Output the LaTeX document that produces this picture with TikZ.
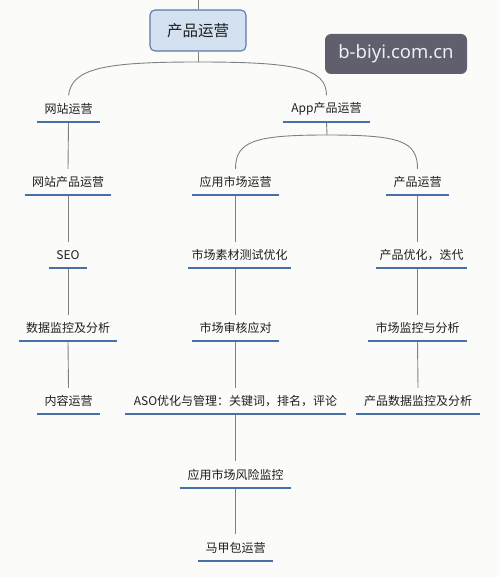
\documentclass[tikz,border=0pt]{standalone}
\usepackage{fontspec}
\setmainfont{Noto Sans CJK SC}
\newfontfamily\badgefont{Noto Sans}
\definecolor{bgc}{RGB}{251,252,249}
\definecolor{linec}{RGB}{128,128,128}
\definecolor{ulc}{RGB}{72,112,168}
\definecolor{rootfill}{RGB}{212,225,241}
\definecolor{rootdraw}{RGB}{88,122,168}
\definecolor{badgec}{RGB}{95,95,110}
\definecolor{txt}{RGB}{30,30,30}
\begin{document}
\begin{tikzpicture}[x=1pt,y=-1pt,
  conn/.style={draw=linec,line width=0.9pt},
  uline/.style={draw=ulc,line width=2.2pt},
  leaf/.style={minimum height=26pt,inner sep=0pt,text=txt,font=\fontsize{12}{14}\selectfont},
  rootbox/.style={rectangle,rounded corners=5pt,fill=rootfill,draw=rootdraw,line width=1.1pt,
    minimum width=96pt,minimum height=41pt,inner sep=0pt,text=txt,font=\fontsize{15.5}{18}\selectfont},
  badge/.style={rectangle,rounded corners=6pt,fill=badgec,minimum width=142pt,minimum height=40pt,
    inner sep=0pt,text={rgb,255:red,238;green,238;blue,242},font=\badgefont\fontsize{18.5}{22}\selectfont}]
\fill[bgc] (0,0) rectangle (500,577);
\useasboundingbox (0,0) rectangle (500,577);

% root
\node[rootbox] (root) at (198,30.5) {产品运营};
\coordinate (top) at (198,0);
\coordinate (rj) at (198,62);

% level 1
\node[leaf,minimum width=63pt] (web) at (68.5,108.5) {网站运营};
\node[leaf,minimum width=87pt] (app) at (326.5,108.5) {App产品运营};
\coordinate (aj) at (327,135);

% left column
\node[leaf,minimum width=86pt] (webop) at (68,182) {网站产品运营};
\node[leaf,minimum width=38pt] (seo) at (68,255) {SEO};
\node[leaf,minimum width=98pt] (data) at (68,328) {数据监控及分析};
\node[leaf,minimum width=63pt] (content) at (68.5,401) {内容运营};

% middle column
\node[leaf,minimum width=87pt] (mkt) at (235.5,182) {应用市场运营};
\node[leaf,minimum width=103pt] (mat) at (239.5,255) {市场素材测试优化};
\node[leaf,minimum width=87pt] (audit) at (235.5,328) {市场审核应对};
\node[leaf,minimum width=221pt] (aso) at (235.5,401) {ASO优化与管理：关键词，排名，评论};
\node[leaf,minimum width=111pt] (risk) at (235.5,474.5) {应用市场风险监控};
\node[leaf,minimum width=75pt] (majia) at (235.5,547.5) {马甲包运营};

% right column
\node[leaf,minimum width=63pt] (prod) at (417.5,182) {产品运营};
\node[leaf,minimum width=91pt] (iter) at (421.5,255) {产品优化，迭代};
\node[leaf,minimum width=99pt] (mon) at (417.5,328) {市场监控与分析};
\node[leaf,minimum width=124pt] (pdata) at (418,401) {产品数据监控及分析};

% badge
\node[badge] (bdg) at (396,54) {b-biyi.com.cn};

% connectors
\draw[conn] (top) -- (root.north);
\draw[conn] (root.south) -- (rj);
\draw[conn] (rj) .. controls (105,62) and (72,68) .. (web.north);
\draw[conn] (rj) .. controls (295,62) and (326.5,68) .. (app.north);
\draw[conn] (app.south) -- (aj);
\draw[conn] (aj) .. controls (255,135) and (235.5,141) .. (mkt.north);
\draw[conn] (aj) .. controls (400,135) and (417.5,141) .. (prod.north);

\draw[conn] (web.south) -- (webop.north);
\draw[conn] (webop.south) -- (seo.north);
\draw[conn] (seo.south) -- (data.north);
\draw[conn] (data.south) -- (content.north);

\draw[conn] (mkt.south) -- (mkt.south |- mat.north);
\draw[conn] (mkt.south |- mat.south) -- (audit.north);
\draw[conn] (audit.south) -- (aso.north);
\draw[conn] (aso.south) -- (risk.north);
\draw[conn] (risk.south) -- (majia.north);

\draw[conn] (prod.south) -- (prod.south |- iter.north);
\draw[conn] (prod.south |- iter.south) -- (mon.north);
\draw[conn] (mon.south) -- (pdata.north);

% underlines
\foreach \n in {web,app,webop,seo,data,content,mkt,mat,audit,aso,risk,majia,prod,iter,mon,pdata}
  \draw[uline] (\n.south west) -- (\n.south east);
\end{tikzpicture}
\end{document}
